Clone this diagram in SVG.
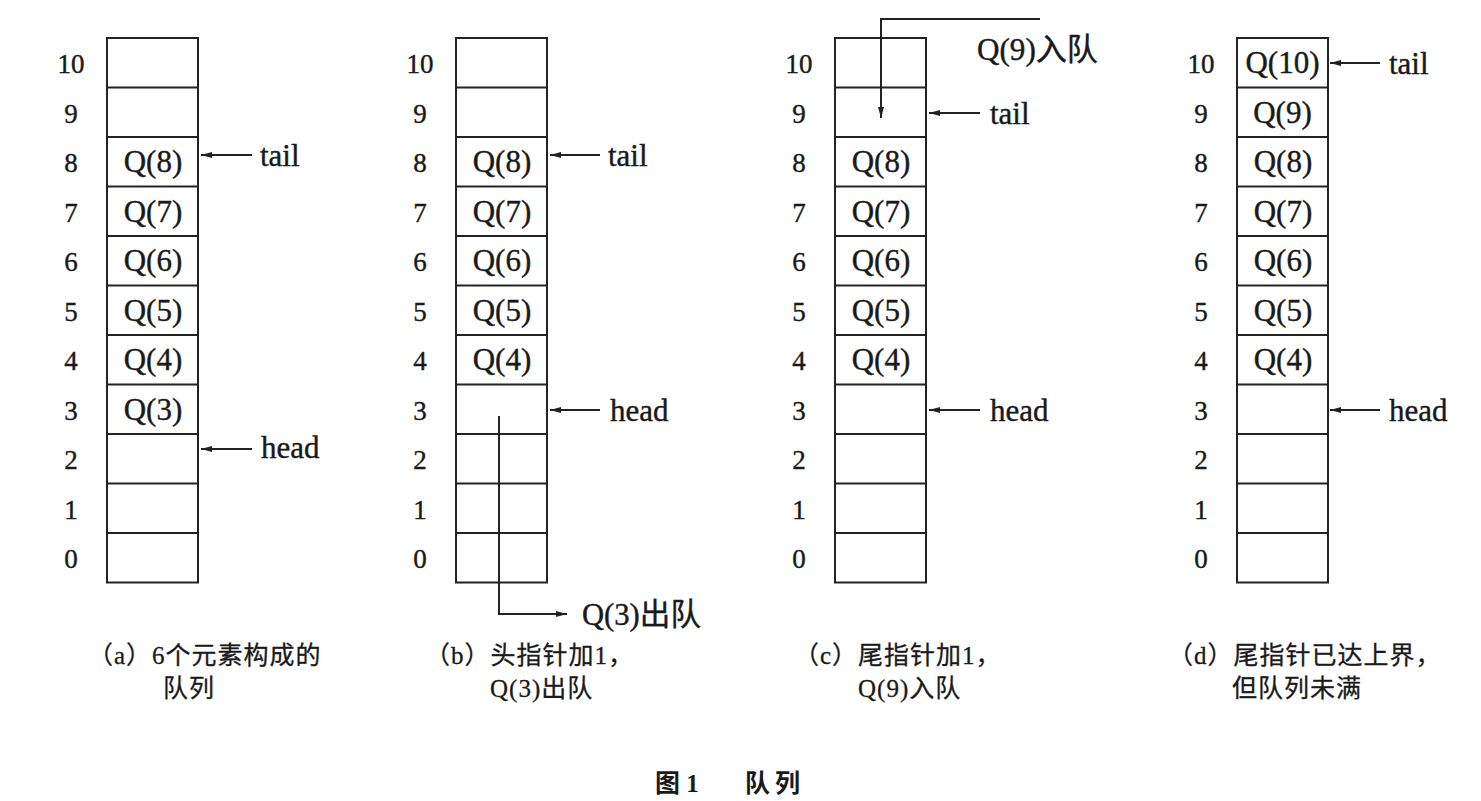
<svg xmlns="http://www.w3.org/2000/svg" width="1481" height="801" viewBox="0 0 1481 801">
<style>
.cell{fill:none;stroke:#222;stroke-width:2}
.t{font-family:"Liberation Serif","Noto Sans CJK SC",serif;font-size:27px;fill:#1a1a1a;stroke:#1a1a1a;stroke-width:0.4}
.w{font-size:31px}
.m{text-anchor:middle}
.cap{font-family:"Liberation Serif","Noto Sans CJK SC",serif;font-size:25px;fill:#1a1a1a;stroke:#1a1a1a;stroke-width:0.3;letter-spacing:1px}
.ttl{font-family:"Liberation Serif","Noto Sans CJK SC",serif;font-size:25px;font-weight:bold;fill:#1a1a1a}
.ln{fill:none;stroke:#222;stroke-width:2}
</style>
<defs>
<marker id="ah" markerWidth="12" markerHeight="8" refX="11" refY="4" orient="auto" markerUnits="userSpaceOnUse">
<path d="M0,1 L11,4 L0,7 Z" fill="#222"/>
</marker>
<g id="stack">
<rect class="cell" x="0" y="0" width="91" height="544.5"/>
<path class="cell" d="M0,49.5H91M0,99H91M0,148.5H91M0,198H91M0,247.5H91M0,297H91M0,346.5H91M0,396H91M0,445.5H91M0,495H91"/>
</g>
<g id="labels">
<text class="t m" x="0" y="35">10</text>
<text class="t m" x="0" y="84.5">9</text>
<text class="t m" x="0" y="134">8</text>
<text class="t m" x="0" y="183.5">7</text>
<text class="t m" x="0" y="233">6</text>
<text class="t m" x="0" y="282.5">5</text>
<text class="t m" x="0" y="332">4</text>
<text class="t m" x="0" y="381.5">3</text>
<text class="t m" x="0" y="431">2</text>
<text class="t m" x="0" y="480.5">1</text>
<text class="t m" x="0" y="530">0</text>
</g>
<g id="q48">
<text class="t w m" x="46" y="134">Q(8)</text>
<text class="t w m" x="46" y="183.5">Q(7)</text>
<text class="t w m" x="46" y="233">Q(6)</text>
<text class="t w m" x="46" y="282.5">Q(5)</text>
<text class="t w m" x="46" y="332">Q(4)</text>
</g>
</defs>

<g id="queue-a">
<use href="#stack" x="107" y="38"/>
<use href="#labels" x="71" y="38"/>
<use href="#q48" x="107" y="38"/>
<text class="t w m" x="153" y="419.5">Q(3)</text>
<text class="t w" x="260" y="166">tail</text>
<text class="t w" x="261" y="458">head</text>
</g>

<g id="queue-b">
<use href="#stack" x="456" y="38"/>
<use href="#labels" x="420" y="38"/>
<use href="#q48" x="456" y="38"/>
<text class="t w" x="608" y="166">tail</text>
<text class="t w" x="610" y="421">head</text>
<text class="t w" x="582" y="625" textLength="119" lengthAdjust="spacingAndGlyphs">Q(3)出队</text>
</g>

<g id="queue-c">
<use href="#stack" x="835" y="38"/>
<use href="#labels" x="799" y="38"/>
<use href="#q48" x="835" y="38"/>
<text class="t w" x="977" y="60" textLength="121" lengthAdjust="spacingAndGlyphs">Q(9)入队</text>
<text class="t w" x="990" y="124">tail</text>
<text class="t w" x="990" y="421">head</text>
</g>

<g id="queue-d">
<use href="#stack" x="1237" y="38"/>
<use href="#labels" x="1201" y="38"/>
<use href="#q48" x="1237" y="38"/>
<text class="t w m" x="1282.5" y="73">Q(10)</text>
<text class="t w m" x="1282.5" y="122.5">Q(9)</text>
<text class="t w" x="1389" y="74">tail</text>
<text class="t w" x="1389" y="421">head</text>
</g>

<g id="connectors">
<path class="ln" d="M252,155H201" marker-end="url(#ah)"/>
<path class="ln" d="M252,449H201" marker-end="url(#ah)"/>
<path class="ln" d="M600,155H550" marker-end="url(#ah)"/>
<path class="ln" d="M600,410H550" marker-end="url(#ah)"/>
<path class="ln" d="M499,416V614H567" marker-end="url(#ah)"/>
<path class="ln" d="M1040,19H881V118" marker-end="url(#ah)"/>
<path class="ln" d="M980,113H929" marker-end="url(#ah)"/>
<path class="ln" d="M980,410H929" marker-end="url(#ah)"/>
<path class="ln" d="M1380,63H1330" marker-end="url(#ah)"/>
<path class="ln" d="M1380,410H1330" marker-end="url(#ah)"/>
</g>

<g id="captions">
<text class="cap" x="88" y="664" letter-spacing="0">（a）6个元素构成的</text>
<text class="cap" x="163" y="697">队列</text>
<text class="cap" x="425" y="664">（b）头指针加1，</text>
<text class="cap" x="490" y="697">Q(3)出队</text>
<text class="cap" x="794" y="664">（c）尾指针加1，</text>
<text class="cap" x="858" y="697">Q(9)入队</text>
<text class="cap" x="1168" y="664">（d）尾指针已达上界，</text>
<text class="cap" x="1232" y="697">但队列未满</text>
<text class="ttl" x="655" y="792">图 1</text>
<text class="ttl" x="745" y="792" letter-spacing="5">队列</text>
</g>
</svg>
